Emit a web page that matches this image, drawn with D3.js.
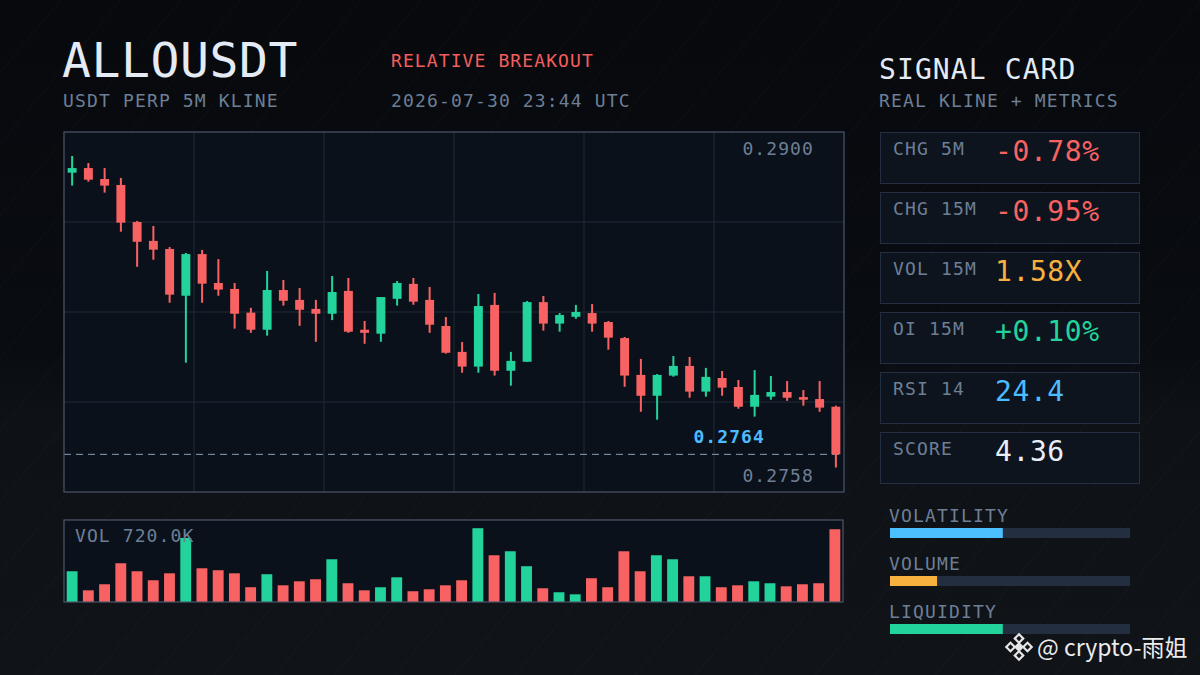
<!DOCTYPE html>
<html>
<head>
<meta charset="utf-8">
<script src="https://cdn.jsdelivr.net/npm/d3@7"></script>
<style>
  html, body { margin: 0; padding: 0; background: #080a0e; }
  svg { display: block; }
  text { font-family: 'DejaVu Sans Mono', monospace; }
</style>
</head>
<body>
<svg id="chart" width="1200" height="675"></svg>
<script>
'use strict';

// 5m klines
var opens = [0.28924, 0.28945, 0.28895, 0.28868, 0.28699, 0.28613, 0.28576, 0.28363, 0.28553, 0.28421, 0.28394, 0.28286,
    0.28208, 0.28389, 0.28344, 0.28303, 0.28281, 0.28385, 0.28208, 0.28190, 0.28349, 0.28417, 0.28344, 0.28225,
    0.28107, 0.28040, 0.28321, 0.28021, 0.28062, 0.28334, 0.28236, 0.28267, 0.28284, 0.28243, 0.28170, 0.28002,
    0.27907, 0.27999, 0.28043, 0.27926, 0.27988, 0.27947, 0.27857, 0.27903, 0.27924, 0.27901, 0.27892, 0.27857];
var highs = [0.29000, 0.28968, 0.28945, 0.28900, 0.28704, 0.28681, 0.28585, 0.28558, 0.28572, 0.28530, 0.28421, 0.28308,
    0.28476, 0.28435, 0.28398, 0.28344, 0.28453, 0.28444, 0.28248, 0.28357, 0.28430, 0.28444, 0.28403, 0.28266,
    0.28152, 0.28371, 0.28376, 0.28107, 0.28339, 0.28362, 0.28284, 0.28321, 0.28325, 0.28248, 0.28175, 0.28075,
    0.28006, 0.28088, 0.28084, 0.28034, 0.28020, 0.27979, 0.28024, 0.27997, 0.27974, 0.27933, 0.27974, 0.27862];
var lows = [0.28865, 0.28883, 0.28833, 0.28655, 0.28495, 0.28527, 0.28331, 0.28058, 0.28331, 0.28363, 0.28213, 0.28194,
    0.28181, 0.28318, 0.28226, 0.28153, 0.28252, 0.28194, 0.28144, 0.28153, 0.28318, 0.28322, 0.28194, 0.28099,
    0.28012, 0.28012, 0.27999, 0.27953, 0.28062, 0.28204, 0.28199, 0.28258, 0.28199, 0.28117, 0.27948, 0.27834,
    0.27798, 0.27994, 0.27898, 0.27903, 0.27907, 0.27848, 0.27812, 0.27889, 0.27884, 0.27862, 0.27834, 0.27580];
var closes = [0.28945, 0.28892, 0.28865, 0.28696, 0.28609, 0.28573, 0.28368, 0.28553, 0.28418, 0.28391, 0.28281, 0.28208,
    0.28389, 0.28340, 0.28299, 0.28281, 0.28380, 0.28199, 0.28194, 0.28357, 0.28421, 0.28336, 0.28231, 0.28103,
    0.28040, 0.28316, 0.28021, 0.28066, 0.28334, 0.28236, 0.28275, 0.28289, 0.28236, 0.28172, 0.27999, 0.27907,
    0.28002, 0.28043, 0.27926, 0.27993, 0.27944, 0.27857, 0.27911, 0.27924, 0.27898, 0.27889, 0.27853, 0.27640];
var volumes = [300000, 114000, 173000, 378000, 300000, 212000, 280000, 625000, 329000, 310000, 280000, 144000,
    271000, 163000, 202000, 222000, 417000, 183000, 114000, 144000, 241000, 105000, 124000, 163000,
    212000, 720000, 456000, 495000, 349000, 134000, 95000, 75000, 232000, 144000, 495000, 300000,
    456000, 417000, 251000, 251000, 144000, 163000, 202000, 183000, 153000, 173000, 183000, 710000];

var priceLabels = ['0.2900', '0.2758'];

var cardLabels = ['CHG 5M', 'CHG 15M', 'VOL 15M', 'OI 15M', 'RSI 14', 'SCORE'];
var cardValues = ['-0.78%', '-0.95%', '1.58X', '+0.10%', '24.4', '4.36'];
var cardColors = ['#f86262', '#f86262', '#f6b13f', '#22d39b', '#4cbcff', '#e8eef7'];

var meterLabels = ['VOLATILITY', 'VOLUME', 'LIQUIDITY'];
var meterValues = [0.47, 0.196, 0.47];
var meterColors = ['#4cc0ff', '#f6b13f', '#22d39b'];

var UP = '#22d39b';
var DOWN = '#f86262';
var MUTED = '#6d7f95';

var svg = d3.select('#chart');

var main = { left: 64, top: 132, right: 844, bottom: 492 };
var vol = { left: 64, top: 520, right: 843, bottom: 602 };

var candles = opens.map(function(o, i) {
    return { i: i, open: o, high: highs[i], low: lows[i], close: closes[i], volume: volumes[i], up: closes[i] >= o };
});

var text = function(parent, x, y, str, size, color, spacing, anchor) {
    return parent.append('text')
        .attr('x', x)
        .attr('y', y)
        .attr('font-size', size)
        .attr('letter-spacing', spacing || 0)
        .attr('text-anchor', anchor || 'start')
        .style('fill', color)
        .text(str)
    ;
};

var background = function() {
    var defs = svg.append('defs');

    var grad = defs.append('linearGradient')
        .attr('id', 'bg')
        .attr('x1', 0).attr('y1', 0).attr('x2', 0).attr('y2', 1);
    grad.append('stop').attr('offset', '0').attr('stop-color', '#07090d');
    grad.append('stop').attr('offset', '0.52').attr('stop-color', '#090c11');
    grad.append('stop').attr('offset', '0.62').attr('stop-color', '#0e1116');
    grad.append('stop').attr('offset', '1').attr('stop-color', '#101318');

    var pat = defs.append('pattern')
        .attr('id', 'diag')
        .attr('patternUnits', 'userSpaceOnUse')
        .attr('width', 46)
        .attr('height', 46)
        .attr('patternTransform', 'rotate(40)');
    pat.append('line')
        .attr('x1', 0).attr('y1', 0).attr('x2', 0).attr('y2', 46)
        .style('stroke', 'rgba(255,255,255,0.035)')
        .style('stroke-width', 1);

    svg.append('rect').attr('width', 1200).attr('height', 675).style('fill', 'url(#bg)');
    svg.append('rect').attr('width', 1200).attr('height', 675).style('fill', 'url(#diag)');
};

var header = function() {
    text(svg, 62, 77, 'ALLOUSDT', 48, '#e4ebf5', 0.6);
    text(svg, 63, 107, 'USDT PERP 5M KLINE', 18, MUTED, 1.15);
    text(svg, 391, 67, 'RELATIVE BREAKOUT', 18, '#f45d5d', 1.1);
    text(svg, 391, 107, '2026-07-30 23:44 UTC', 18, MUTED, 1.15);

    text(svg, 879, 79, 'SIGNAL CARD', 28, '#e4ebf5', 1.1);
    text(svg, 879, 107, 'REAL KLINE + METRICS', 18, MUTED, 1.15);
};

var priceChart = function() {
    var x = d3.scaleBand()
        .domain(d3.range(candles.length))
        .range([main.left, main.right])
        .paddingInner(0.45)
        .paddingOuter(0.225);

    var y = d3.scaleLinear()
        .domain([d3.min(lows), d3.max(highs)])
        .range([main.bottom - 24.5, main.top + 24]);

    svg.append('rect')
        .attr('x', main.left).attr('y', main.top)
        .attr('width', main.right - main.left).attr('height', main.bottom - main.top)
        .style('fill', '#0b111b');

    var grid = svg.append('g');
    d3.range(1, 6).forEach(function(k) {
        var gx = main.left + k * (main.right - main.left) / 6;
        grid.append('line')
            .attr('x1', gx).attr('x2', gx).attr('y1', main.top).attr('y2', main.bottom)
            .style('stroke', '#212a39').style('stroke-width', 1);
    });
    d3.range(1, 4).forEach(function(k) {
        var gy = main.top + k * (main.bottom - main.top) / 4;
        grid.append('line')
            .attr('x1', main.left).attr('x2', main.right).attr('y1', gy).attr('y2', gy)
            .style('stroke', '#212a39').style('stroke-width', 1);
    });

    var last = candles[candles.length - 1];

    svg.append('line')
        .attr('x1', main.left).attr('x2', main.right)
        .attr('y1', y(last.close)).attr('y2', y(last.close))
        .style('stroke', '#9fb8d0')
        .style('stroke-opacity', 0.85)
        .style('stroke-width', 1)
        .style('stroke-dasharray', '7,5');

    var g = svg.append('g');

    var c = g.selectAll('.candle')
        .data(candles)
        .enter().append('g')
        .attr('class', 'candle');

    c.append('rect')
        .attr('x', function(d) { return x(d.i) + x.bandwidth() / 2 - 1; })
        .attr('y', function(d) { return y(d.high); })
        .attr('width', 2)
        .attr('height', function(d) { return y(d.low) - y(d.high); })
        .style('fill', function(d) { return d.up ? UP : DOWN; });

    c.append('rect')
        .attr('x', function(d) { return x(d.i); })
        .attr('y', function(d) { return y(Math.max(d.open, d.close)); })
        .attr('width', x.bandwidth())
        .attr('height', function(d) { return Math.max(2, Math.abs(y(d.open) - y(d.close))); })
        .style('fill', function(d) { return d.up ? UP : DOWN; });

    svg.append('rect')
        .attr('x', main.left).attr('y', main.top)
        .attr('width', main.right - main.left).attr('height', main.bottom - main.top)
        .style('fill', 'none')
        .style('stroke', '#4d5869')
        .style('stroke-width', 1.2);

    text(svg, main.right - 30, main.top + 23, priceLabels[0], 18, MUTED, 1.1, 'end');
    text(svg, main.right - 30, main.bottom - 10, priceLabels[1], 18, MUTED, 1.1, 'end');
    text(svg, main.right - 79, y(last.close) - 11, d3.format('.4f')(last.close), 18, '#4cbcff', 1.1, 'end')
        .attr('font-weight', 'bold');
};

var volumeChart = function() {
    var x = d3.scaleBand()
        .domain(d3.range(candles.length))
        .range([vol.left, vol.right])
        .paddingInner(0.33)
        .paddingOuter(0.165);

    var maxVol = d3.max(volumes);

    var y = d3.scaleLinear()
        .domain([0, maxVol])
        .range([vol.bottom, vol.bottom - 0.9 * (vol.bottom - vol.top)]);

    svg.append('rect')
        .attr('x', vol.left).attr('y', vol.top)
        .attr('width', vol.right - vol.left).attr('height', vol.bottom - vol.top)
        .style('fill', '#0b111b');

    svg.append('g').selectAll('rect')
        .data(candles)
        .enter().append('rect')
        .attr('x', function(d) { return x(d.i); })
        .attr('y', function(d) { return y(d.volume); })
        .attr('width', x.bandwidth())
        .attr('height', function(d) { return y(0) - y(d.volume); })
        .style('fill', function(d) { return d.up ? UP : DOWN; });

    svg.append('rect')
        .attr('x', vol.left).attr('y', vol.top)
        .attr('width', vol.right - vol.left).attr('height', vol.bottom - vol.top)
        .style('fill', 'none')
        .style('stroke', '#4d5869')
        .style('stroke-width', 1.2);

    text(svg, vol.left + 11, vol.top + 22, 'VOL ' + (maxVol / 1000).toFixed(1) + 'K', 18, MUTED, 1.1);
};

var signalCard = function() {
    cardLabels.forEach(function(label, i) {
        var top = 132 + i * 60;
        svg.append('rect')
            .attr('x', 880.5).attr('y', top + 0.5)
            .attr('width', 259).attr('height', 51)
            .style('fill', '#0e141e')
            .style('stroke', '#243041')
            .style('stroke-width', 1);
        text(svg, 893, top + 23, label, 18, MUTED, 1.15);
        text(svg, 995, top + 29, cardValues[i], 28, cardColors[i], 0.6);
    });

    meterLabels.forEach(function(label, i) {
        var base = 522 + i * 48;
        text(svg, 889, base, label, 18, MUTED, 1.15);
        svg.append('rect')
            .attr('x', 890).attr('y', base + 6)
            .attr('width', 240).attr('height', 10)
            .style('fill', '#232f40');
        svg.append('rect')
            .attr('x', 890).attr('y', base + 6)
            .attr('width', 240 * meterValues[i]).attr('height', 10)
            .style('fill', meterColors[i]);
    });
};

var watermark = function() {
    var logo = svg.append('g')
        .attr('transform', 'translate(1019,647) rotate(45)')
        .style('fill', 'none')
        .style('stroke', '#e6e6e6')
        .style('stroke-width', 2.2);
    [[-6, -6], [6, -6], [-6, 6], [6, 6]].forEach(function(p) {
        logo.append('rect').attr('x', p[0] - 3).attr('y', p[1] - 3).attr('width', 6).attr('height', 6);
    });
    logo.append('rect').attr('x', -2.5).attr('y', -2.5).attr('width', 5).attr('height', 5).style('fill', '#e6e6e6');

    svg.append('text')
        .attr('x', 1037)
        .attr('y', 656)
        .attr('font-size', 23)
        .style('font-family', "'Noto Sans CJK SC', 'Noto Sans', sans-serif")
        .style('fill', '#ececec')
        .text('@ crypto-雨姐');
};

background();
header();
priceChart();
volumeChart();
signalCard();
watermark();
</script>
</body>
</html>
